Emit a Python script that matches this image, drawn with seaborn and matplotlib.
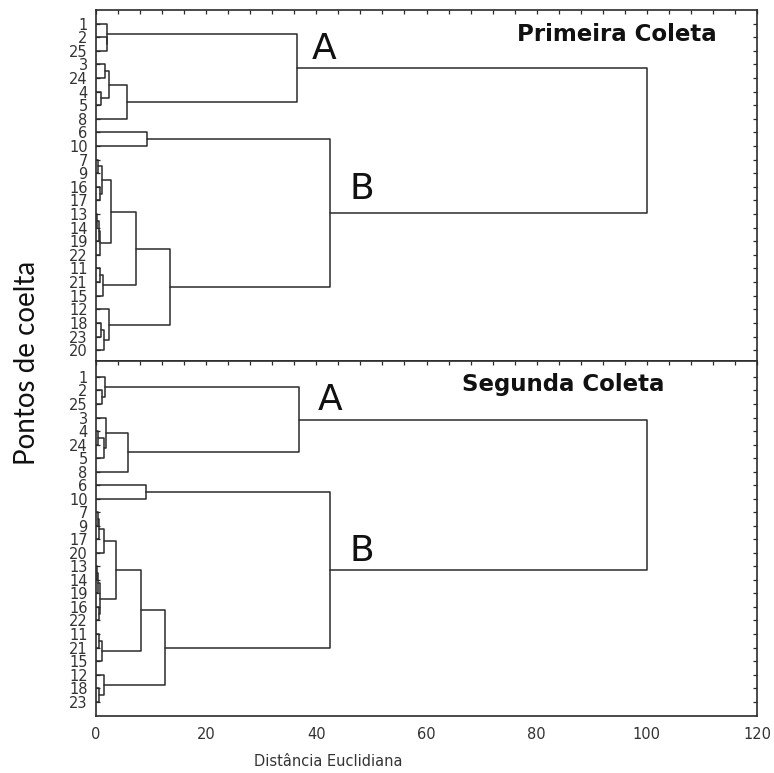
import numpy as np
import pandas as pd
import matplotlib
matplotlib.use("Agg")
import matplotlib.pyplot as plt
from matplotlib.ticker import MultipleLocator, FixedLocator
import seaborn as sns

# ---------------- data ----------------
leaves_1 = [1, 2, 25, 3, 24, 4, 5, 8, 6, 10, 7, 9, 16, 17, 13, 14, 19, 22,
            11, 21, 15, 12, 18, 23, 20]
# (child, child, linkage distance); ints = leaves, "mK" = K-th merge
merges_1 = [
    (2, 25, 1.95), (1, "m0", 2.05),
    (3, 24, 1.7), (4, 5, 0.85), ("m2", "m3", 2.4), ("m4", 8, 5.7),
    ("m1", "m5", 36.4),
    (6, 10, 9.3),
    (7, 9, 0.3), (16, 17, 0.7), ("m8", "m9", 1.15),
    (13, 14, 0.2), ("m11", 19, 0.5), ("m12", 22, 0.8), ("m10", "m13", 2.8),
    (11, 21, 0.8), ("m15", 15, 1.3), ("m14", "m16", 7.3),
    (18, 23, 0.85), ("m18", 20, 1.45), (12, "m19", 2.3),
    ("m17", "m20", 13.5), ("m7", "m21", 42.5),
    ("m6", "m22", 100.0),
]

leaves_2 = [1, 2, 25, 3, 4, 24, 5, 8, 6, 10, 7, 9, 17, 20, 13, 14, 19, 16,
            22, 11, 21, 15, 12, 18, 23]
merges_2 = [
    (2, 25, 1.1), (1, "m0", 1.7),
    (4, 24, 0.35), ("m2", 5, 1.4), (3, "m3", 1.8), ("m4", 8, 5.75),
    ("m1", "m5", 36.8),
    (6, 10, 9.0),
    (7, 9, 0.35), ("m8", 17, 0.6), ("m9", 20, 1.4),
    (13, 14, 0.2), ("m11", 19, 0.3), (16, 22, 0.55), ("m12", "m13", 0.8),
    ("m10", "m14", 3.6),
    (11, 21, 0.5), ("m16", 15, 1.0), ("m15", "m17", 8.2),
    (18, 23, 0.6), (12, "m19", 1.4),
    ("m18", "m20", 12.5), ("m7", "m21", 42.5),
    ("m6", "m22", 100.0),
]

titles = ["Primeira Coleta", "Segunda Coleta"]
x_ticks = [0, 20, 40, 60, 80, 100, 120]
x_label = "Distância Euclidiana"
y_label = "Pontos de coelta"


def segments(leaves, merges):
    pos = {leaf: (0.0, float(i)) for i, leaf in enumerate(leaves)}
    rows = []
    for k, (a, b, h) in enumerate(merges):
        xa, ya = pos[a]
        xb, yb = pos[b]
        for px, py in [(xa, ya), (h, ya), (h, yb), (xb, yb)]:
            rows.append(dict(seg=k, x=px, y=py))
        pos[f"m{k}"] = (h, (ya + yb) / 2)
    return pd.DataFrame(rows)


sns.set_theme(style="white")
plt.rcParams["font.family"] = ["DejaVu Sans"]

W, H = 774, 773
fig = plt.figure(figsize=(W / 100, H / 100), dpi=100)
ax1 = fig.add_axes([96 / W, 1 - 361 / H, 661 / W, 351 / H])
ax2 = fig.add_axes([96 / W, 1 - 716 / H, 661 / W, 355 / H])

line_col = "#2b2b2b"
panels = [
    (ax1, leaves_1, merges_1, (24.8, -1.0)),
    (ax2, leaves_2, merges_2, (25.06, -1.18)),
]

for ax, leaves, merges, ylim in panels:
    df = segments(leaves, merges)
    sns.lineplot(data=df, x="x", y="y", units="seg", estimator=None,
                 sort=False, color=line_col, lw=1.1, ax=ax)
    ax.set_xlim(0, 120)
    ax.set_ylim(*ylim)
    ax.set_xlabel("")
    ax.set_ylabel("")
    ax.yaxis.set_major_locator(FixedLocator(range(len(leaves))))
    ax.set_yticklabels([str(l) for l in leaves])
    ax.xaxis.set_major_locator(MultipleLocator(20))
    ax.xaxis.set_minor_locator(MultipleLocator(4))
    ax.tick_params(axis="y", which="both", direction="in", left=True,
                   right=True, length=3, width=0.9, color=line_col,
                   labelsize=10.5, labelcolor="#333333", pad=6)
    ax.tick_params(axis="x", which="both", direction="in", top=True,
                   length=3, width=0.9, color=line_col,
                   labelsize=10.5, labelcolor="#333333", pad=8)
    for sp in ax.spines.values():
        sp.set_visible(True)
        sp.set_color(line_col)
        sp.set_linewidth(1.2)

ax1.tick_params(axis="x", which="both", bottom=False, labelbottom=False)
ax2.set_xticks(x_ticks)
ax2.set_xticklabels([str(t) for t in x_ticks])

# titles and cluster letters
ax1.text(94.6, 0.83, titles[0], ha="center", va="center", fontsize=16.5,
         fontweight="bold", color="#111111")
ax2.text(84.8, 0.59, titles[1], ha="center", va="center", fontsize=16.5,
         fontweight="bold", color="#111111")
ax1.text(41.4, 1.86, "A", ha="center", va="center", fontsize=26, color="#111111")
ax1.text(48.2, 12.15, "B", ha="center", va="center", fontsize=26, color="#111111")
ax2.text(42.5, 1.7, "A", ha="center", va="center", fontsize=26, color="#111111")
ax2.text(48.2, 12.9, "B", ha="center", va="center", fontsize=26, color="#111111")

fig.text(328 / W, 1 - 762 / H, x_label, ha="center", va="center",
         fontsize=10.5, color="#333333")
fig.text(27 / W, 1 - 363 / H, y_label, ha="center", va="center",
         rotation=90, fontsize=20, color="#111111", family=["Lato", "DejaVu Sans"])

fig.savefig("out.png", dpi=100)
